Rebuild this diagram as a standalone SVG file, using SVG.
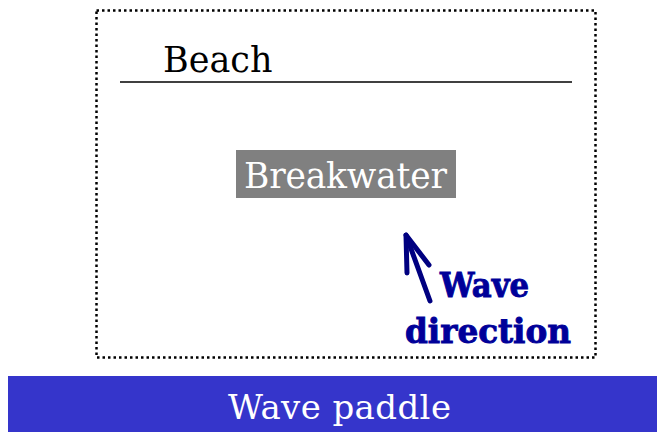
<svg xmlns="http://www.w3.org/2000/svg" width="657" height="432" viewBox="0 0 657 432">
<style>
.serif{font-family:"DejaVu Serif","Liberation Serif",serif}
.dir{font-family:"DejaVu Serif","Liberation Serif",serif;font-weight:bold;font-size:33px;fill:#000099;stroke:#000099;stroke-width:0.9}
</style>
<rect width="657" height="432" fill="#fff"/>
<g id="basin">
<rect x="96.5" y="10.5" width="499" height="347" fill="none" stroke="#000" stroke-width="2.5" stroke-dasharray="2.5 3"/>
</g>
<g id="beach">
<line x1="120" y1="82" x2="572" y2="82" stroke="#000" stroke-width="1.5"/>
<text class="serif" x="163" y="72" font-size="35" fill="#000">Beach</text>
</g>
<g id="breakwater">
<rect x="236" y="150" width="220" height="48" fill="#808080"/>
<text class="serif" x="244" y="188" font-size="34.5" fill="#fff" textLength="203">Breakwater</text>
</g>
<g id="connectors">
<g fill="none" stroke="#000080" stroke-width="5" stroke-linecap="round" stroke-linejoin="round">
<line x1="430" y1="301" x2="406" y2="235"/>
<polyline points="407,273 406,235 429,265"/>
</g>
</g>
<g id="wave-direction">
<text class="dir" x="440" y="297" textLength="89" lengthAdjust="spacingAndGlyphs">Wave</text>
<text class="dir" x="405" y="343" textLength="166" lengthAdjust="spacingAndGlyphs">direction</text>
</g>
<g id="paddle">
<rect x="8" y="376" width="649" height="56" fill="#3535CB"/>
<text class="serif" x="228" y="419" font-size="34" fill="#fff" textLength="223">Wave paddle</text>
</g>
</svg>
